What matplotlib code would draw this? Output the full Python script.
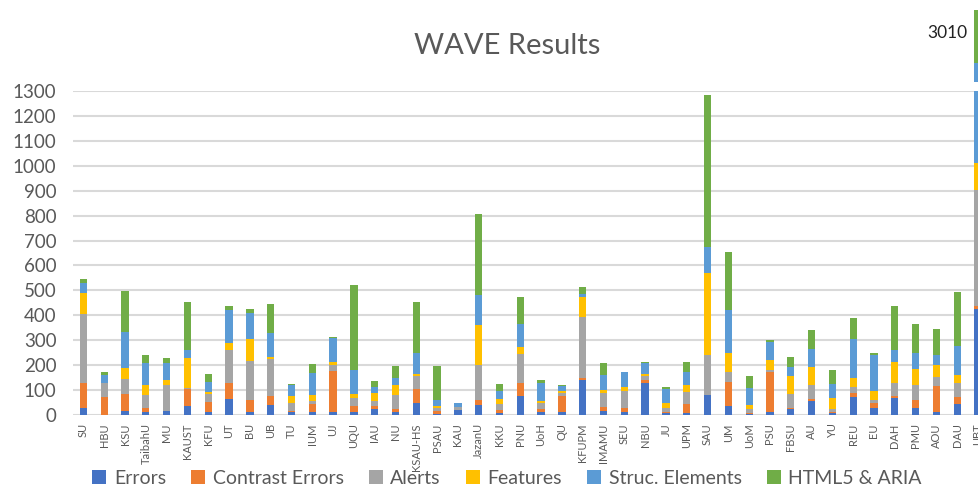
import numpy as np
import matplotlib
matplotlib.use("Agg")
import matplotlib.pyplot as plt

plt.rcParams['font.family'] = ['Lato', 'DejaVu Sans']

# universities, in chart order (the last one is cut off at the right edge)
universities = [
    "SU", "HBU", "KSU", "TaibahU", "MU", "KAUST", "KFU", "UT", "BU", "UB",
    "TU", "IUM", "UJ", "UQU", "IAU", "NU", "KSAU-HS", "PSAU", "KAU", "JazanU",
    "KKU", "PNU", "UoH", "QU", "KFUPM", "IMAMU", "SEU", "NBU", "JU", "UPM",
    "SAU", "UM", "UoM", "PSU", "FBSU", "AU", "YU", "REU", "EU", "DAH",
    "PMU", "AOU", "DAU", "UBT",
]

errors = [29, 0, 17, 13, 17, 36, 11, 63, 14, 42,
          14, 14, 14, 11, 25, 14, 48, 4, 20, 40,
          9, 76, 12, 13, 140, 17, 14, 130, 10, 7,
          80, 38, 3, 11, 25, 57, 7, 72, 30, 68,
          27, 14, 45, 425]
contrast_errors = [98, 74, 66, 14, 0, 68, 42, 64, 47, 35,
                   4, 31, 163, 27, 12, 11, 57, 12, 0, 20,
                   11, 54, 12, 65, 10, 14, 13, 11, 4, 38,
                   0, 94, 4, 160, 5, 8, 7, 17, 18, 7,
                   34, 102, 26, 12]
alerts = [277, 53, 60, 53, 103, 3, 31, 134, 155, 147,
          30, 10, 23, 30, 18, 57, 52, 11, 11, 141,
          24, 113, 25, 11, 242, 56, 69, 16, 13, 46,
          160, 39, 18, 9, 56, 55, 9, 23, 13, 55,
          58, 38, 59, 466]
features = [84, 3, 44, 40, 20, 123, 10, 29, 88, 8,
            27, 27, 11, 17, 34, 37, 9, 11, 3, 160,
            19, 31, 7, 9, 80, 13, 17, 7, 23, 28,
            329, 77, 16, 41, 71, 71, 45, 38, 37, 81,
            65, 48, 30, 108]
struc_elements = [43, 30, 147, 87, 67, 31, 40, 131, 105, 95,
                  44, 86, 96, 95, 24, 28, 82, 23, 14, 120,
                  35, 91, 74, 20, 14, 61, 58, 45, 55, 54,
                  104, 175, 68, 72, 37, 75, 55, 153, 141, 48,
                  64, 37, 117, 1786]
html5_aria = [13, 11, 165, 34, 20, 191, 29, 16, 17, 119,
              4, 35, 4, 340, 23, 48, 207, 134, 1, 326,
              25, 107, 10, 2, 29, 46, 2, 5, 7, 38,
              610, 232, 48, 7, 38, 75, 57, 86, 9, 180,
              118, 105, 217, 213]

series = [
    ("Errors", errors, "#4472C4"),
    ("Contrast Errors", contrast_errors, "#ED7D31"),
    ("Alerts", alerts, "#A5A5A5"),
    ("Features", features, "#FFC000"),
    ("Struc. Elements", struc_elements, "#5B9BD5"),
    ("HTML5 & ARIA", html5_aria, "#70AD47"),
]

text_grey = "#595959"
grid_grey = "#D9D9D9"
x = np.arange(len(universities))
bar_w = 0.35

fig = plt.figure(figsize=(9.79, 4.88), dpi=100)
# main axes runs past the right edge of the figure, like the screenshot
ax = fig.add_axes([0.0746, 0.1496, 0.935, 0.664])
# small upper axes that shows the top of the very tall last bar (broken axis)
ax_top = fig.add_axes([0.0746, 0.832, 0.935, 0.152], sharex=ax)

for a in (ax, ax_top):
    bottom = np.zeros(len(universities))
    for name, vals, color in series:
        a.bar(x, vals, bar_w, bottom=bottom, color=color, label=name, zorder=3)
        bottom += np.array(vals)

totals = bottom

ax.set_ylim(0, 1300)
ax.set_xlim(-0.5, len(universities) - 0.5)
ax.set_yticks(np.arange(0, 1301, 100))
ax.yaxis.grid(True, color=grid_grey, linewidth=1.5, zorder=0)
ax.set_axisbelow(True)
for s in ax.spines.values():
    s.set_visible(False)
ax.tick_params(axis="y", length=0, pad=12, labelsize=13.5, labelcolor=text_grey)
ax.tick_params(axis="x", length=0, pad=6, labelsize=8, labelcolor=text_grey)
ax.set_xticks(x)
ax.set_xticklabels(universities, rotation=90, va="top")

# the upper piece keeps the same scale as the main axes
px_per_unit = 324 / 1300
top_val = totals[-1] + 2 / px_per_unit
ax_top.set_ylim(top_val - 74 / px_per_unit, top_val)
ax_top.axis("off")
ax_top.annotate(f"{int(totals[-1])}", xy=(x[-1], totals[-1]),
                xytext=(-22, -16.5), textcoords="offset points",
                ha="center", va="center", fontsize=12.5, color="#222222")

fig.text(0.518, 0.905, "WAVE Results", ha="center", va="center",
         fontsize=21, color=text_grey)

handles, labels = ax.get_legend_handles_labels()
fig.legend(handles, labels, loc="center", bbox_to_anchor=(0.518, 0.02),
           ncol=6, frameon=False, fontsize=14, labelcolor=text_grey,
           handlelength=0.7, handleheight=0.7, handletextpad=0.4,
           columnspacing=1.3)

fig.savefig("out.png", dpi=100, facecolor="white")
